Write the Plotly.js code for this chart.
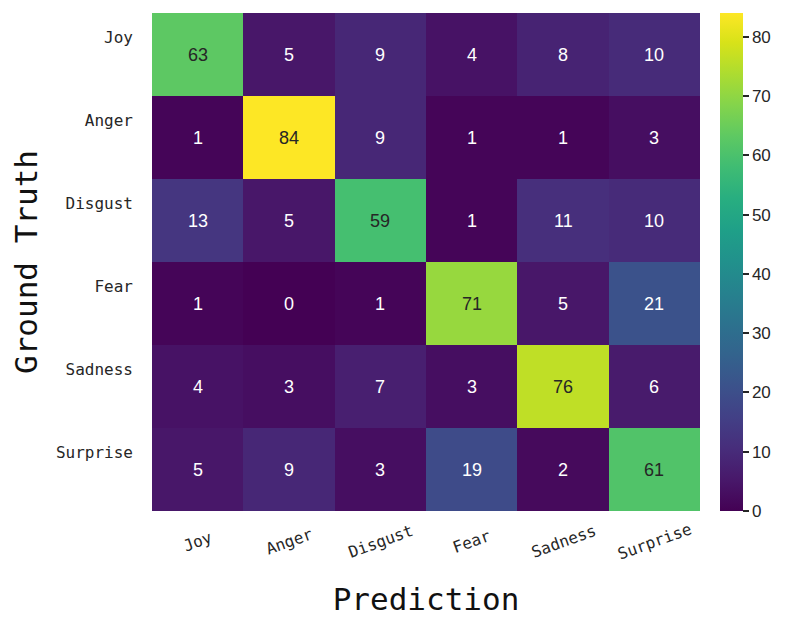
<!DOCTYPE html>
<html>
<head>
<meta charset="utf-8">
<script src="https://cdn.plot.ly/plotly-3.0.1.min.js"></script>
<style>html,body{margin:0;padding:0;background:#fff;}</style>
</head>
<body>
<div id="chart" style="width:796px;height:631px;"></div>
<script>
const predLabels = ["Joy", "Anger", "Disgust", "Fear", "Sadness", "Surprise"];
const truthLabels = ["Joy", "Anger", "Disgust", "Fear", "Sadness", "Surprise"];
const rowJoy = [63, 5, 9, 4, 8, 10];
const rowAnger = [1, 84, 9, 1, 1, 3];
const rowDisgust = [13, 5, 59, 1, 11, 10];
const rowFear = [1, 0, 1, 71, 5, 21];
const rowSadness = [4, 3, 7, 3, 76, 6];
const rowSurprise = [5, 9, 3, 19, 2, 61];
const z = [rowJoy, rowAnger, rowDisgust, rowFear, rowSadness, rowSurprise];

const monoFont = "DejaVu Sans Mono, monospace";
const annotations = [];
z.forEach((row, i) => row.forEach((v, j) => {
  annotations.push({
    x: predLabels[j], y: truthLabels[i], text: String(v), showarrow: false,
    font: {family: "Liberation Sans, Arial, sans-serif", size: 18, color: v > 42 ? "#262626" : "#ffffff"}
  });
}));
predLabels.forEach(lbl => {
  annotations.push({
    x: lbl, xref: "x", y: 0, yref: "paper", yanchor: "middle", xanchor: "center",
    yshift: -30, textangle: -20, showarrow: false, text: lbl,
    font: {family: monoFont, size: 16, color: "#262626"}
  });
});

const trace = {
  type: "heatmap", z: z, x: predLabels, y: truthLabels,
  colorscale: "Viridis", zmin: 0, zmax: 84,
  colorbar: {
    x: 1.036, xanchor: "left", xpad: 0, y: 0.5, yanchor: "middle", len: 1, ypad: 0,
    thickness: 23, outlinewidth: 0,
    ticks: "outside", ticklen: 6, tickwidth: 2, tickcolor: "#262626",
    tickvals: [0,10,20,30,40,50,60,70,80],
    tickfont: {family: "Liberation Sans, Arial, sans-serif", size: 17, color: "#262626"}
  }
};

const layout = {
  width: 796, height: 631,
  margin: {l: 152, r: 96, t: 13, b: 120},
  paper_bgcolor: "#fff", plot_bgcolor: "#fff",
  xaxis: {
    type: "category", showgrid: false, zeroline: false, ticks: "", showticklabels: false,
    title: {text: "Prediction", font: {family: monoFont, size: 31, color: "#111"}, standoff: 77}
  },
  yaxis: {
    type: "category", autorange: "reversed", showgrid: false, zeroline: false, ticks: "",
    ticklabelstandoff: 18, ticklabelshift: 17,
    tickfont: {family: monoFont, size: 16, color: "#262626"},
    title: {text: "Ground Truth", font: {family: monoFont, size: 31, color: "#111"}, standoff: 9}
  },
  annotations: annotations
};

Plotly.newPlot("chart", [trace], layout, {displayModeBar: false, staticPlot: true});
</script>
</body>
</html>
